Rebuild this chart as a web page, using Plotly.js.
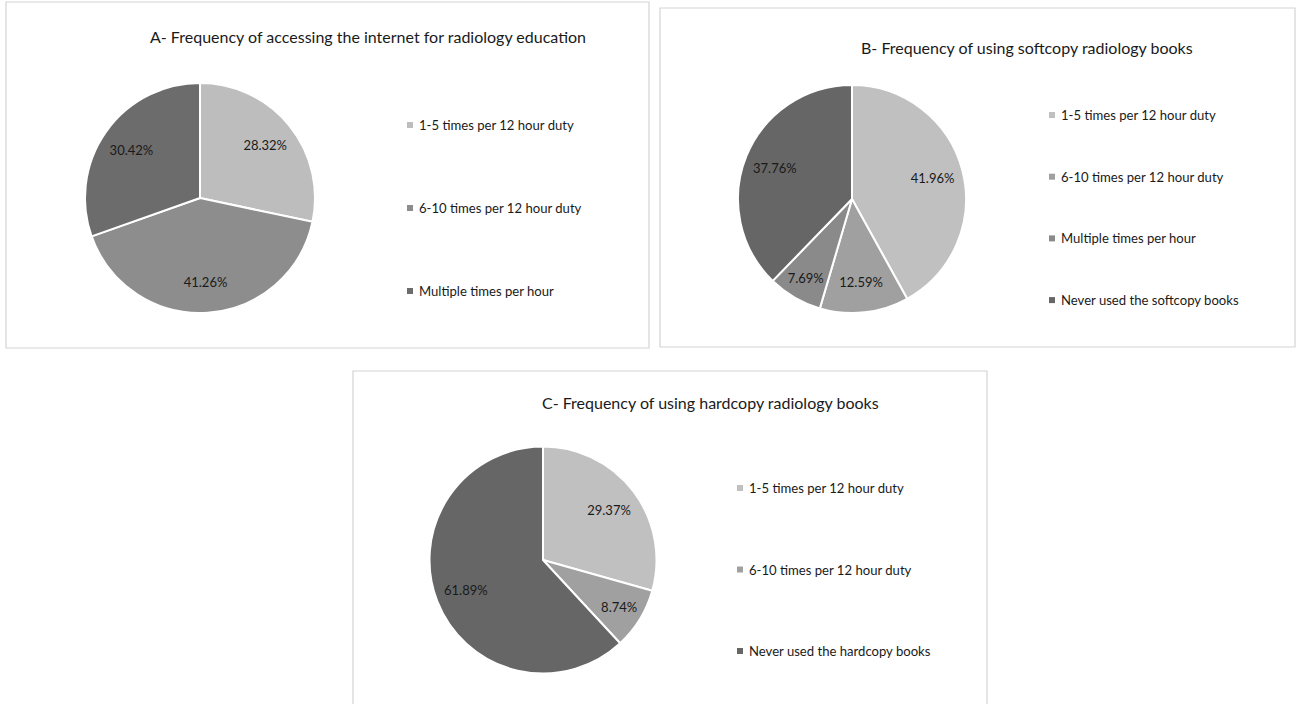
<!DOCTYPE html>
<html>
<head>
<meta charset="utf-8">
<script src="https://cdn.plot.ly/plotly-3.0.1.min.js"></script>
<style>html,body{margin:0;padding:0;background:#fff;}#chart{width:1296px;height:704px;}</style>
</head>
<body>
<div id="chart"></div>
<script>
// ---- Data ----
const titleA = "A- Frequency of accessing the internet for radiology education";
const labelsA = ["1-5 times per 12 hour duty", "6-10 times per 12 hour duty", "Multiple times per hour"];
const valuesA = [28.32, 41.26, 30.42];

const titleB = "B- Frequency of using softcopy radiology books";
const labelsB = ["1-5 times per 12 hour duty", "6-10 times per 12 hour duty", "Multiple times per hour", "Never used the softcopy books"];
const valuesB = [41.96, 12.59, 7.69, 37.76];

const titleC = "C- Frequency of using hardcopy radiology books";
const labelsC = ["1-5 times per 12 hour duty", "6-10 times per 12 hour duty", "Never used the hardcopy books"];
const valuesC = [29.37, 8.74, 61.89];

// ---- Styles ----
const colorsA = ["#bdbdbd", "#8d8d8d", "#6c6c6c"];
const colorsB = ["#c0c0c0", "#a0a0a0", "#8a8a8a", "#666666"];
const colorsC = ["#c0c0c0", "#a0a0a0", "#666666"];

const W = 1296, H = 704;
const FONT = "Lato, 'Open Sans', sans-serif";
const px = v => v / W;
const py = v => 1 - v / H;

function domainOf(cx, cy, r) {
  return {x: [px(cx - r), px(cx + r)], y: [py(cy + r), py(cy - r)]};
}

// Filled pie (no text)
function pieTrace(labels, values, colors, cx, cy, r) {
  return {
    type: "pie",
    labels: labels,
    values: values,
    sort: false,
    direction: "clockwise",
    rotation: 0,
    marker: {colors: colors, line: {color: "#ffffff", width: 2}},
    textinfo: "none",
    hoverinfo: "label+value",
    showlegend: false,
    domain: domainOf(cx, cy, r)
  };
}
// Transparent ring on top carrying the data labels (places labels further out, like Excel)
function labelTrace(labels, values, cx, cy, r) {
  return {
    type: "pie",
    labels: labels,
    values: values,
    sort: false,
    direction: "clockwise",
    rotation: 0,
    hole: 0.46,
    marker: {colors: values.map(() => "rgba(0,0,0,0)"), line: {width: 0}},
    texttemplate: "%{value:.2f}%",
    textposition: "inside",
    insidetextorientation: "horizontal",
    textfont: {family: FONT, size: 13, color: "#1a1a1a"},
    hoverinfo: "skip",
    showlegend: false,
    domain: domainOf(cx, cy, r)
  };
}

const data = [
  pieTrace(labelsA, valuesA, colorsA, 200, 198, 115),
  pieTrace(labelsB, valuesB, colorsB, 852, 199, 114),
  pieTrace(labelsC, valuesC, colorsC, 543, 560, 113.5),
  labelTrace(labelsA, valuesA, 200, 198, 115),
  labelTrace(labelsB, valuesB, 852, 199, 114),
  labelTrace(labelsC, valuesC, 543, 560, 113.5)
];

const shapes = [];
const annotations = [];

function panel(x0, y0, x1, y1) {
  shapes.push({type: "rect", xref: "paper", yref: "paper",
    x0: px(x0), x1: px(x1), y0: py(y1), y1: py(y0),
    line: {color: "#d4d4d4", width: 1.2}, fillcolor: "rgba(0,0,0,0)", layer: "below"});
}
function title(text, cx, cy) {
  annotations.push({text: text, xref: "paper", yref: "paper", x: px(cx), y: py(cy),
    xanchor: "center", yanchor: "middle", showarrow: false,
    font: {family: FONT, size: 16, color: "#1a1a1a"}});
}
function legend(labels, colors, x, y0, gap) {
  labels.forEach((lab, i) => {
    const y = y0 + i * gap;
    shapes.push({type: "rect", xref: "paper", yref: "paper",
      x0: px(x - 3), x1: px(x + 3), y0: py(y + 3), y1: py(y - 3),
      line: {width: 0}, fillcolor: colors[i]});
    annotations.push({text: lab, xref: "paper", yref: "paper", x: px(x + 7), y: py(y),
      xanchor: "left", yanchor: "middle", showarrow: false,
      font: {family: FONT, size: 13.1, color: "#1a1a1a"}});
  });
}

panel(6, 2, 649, 348);
panel(660, 8, 1295, 347);
panel(353, 371, 987, 712);

title(titleA, 368, 36);
title(titleB, 1027, 47);
title(titleC, 710, 403);

legend(labelsA, colorsA, 410, 125, 83);
legend(labelsB, colorsB, 1052, 115, 61.7);
legend(labelsC, colorsC, 740, 488, 81.5);

const layout = {
  width: W, height: H,
  margin: {l: 0, r: 0, t: 0, b: 0},
  paper_bgcolor: "#ffffff",
  showlegend: false,
  shapes: shapes,
  annotations: annotations,
  font: {family: FONT}
};

Plotly.newPlot("chart", data, layout, {displayModeBar: false, staticPlot: true});
</script>
</body>
</html>
